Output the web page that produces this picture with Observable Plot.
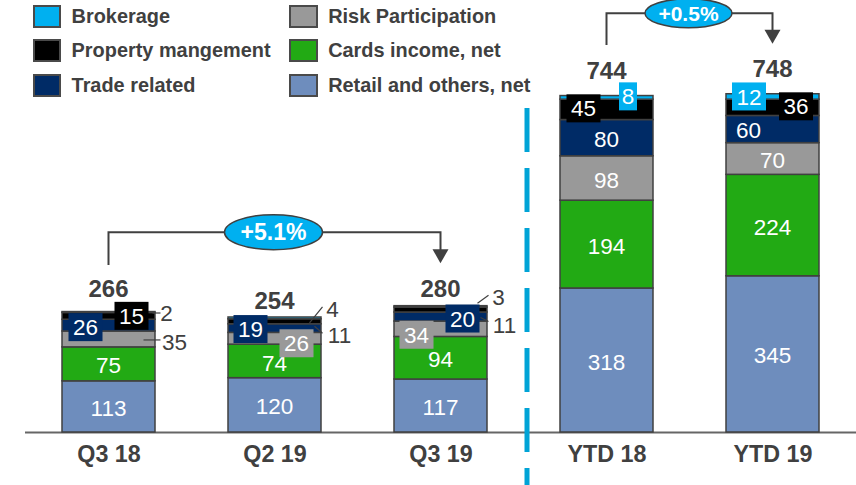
<!DOCTYPE html>
<html><head><meta charset="utf-8">
<script src="https://cdn.jsdelivr.net/npm/d3@7"></script>
<script src="https://cdn.jsdelivr.net/npm/@observablehq/plot@0.6"></script>
<style>
body{margin:0;background:#fff;font-family:"Liberation Sans",Arial,sans-serif;}
#wrap{position:relative;width:856px;height:485px;overflow:hidden;background:#fff}
.li{position:absolute;display:flex;align-items:center;font-weight:bold;font-size:19.9px;color:#404040;white-space:nowrap;height:23px}
.sw{width:28.6px;height:23px;border:2px solid #4a4a4a;box-sizing:border-box;margin-right:10.3px;flex:none}
</style></head>
<body><div id="wrap"></div>
<script>
// ---- data ----
const categories = ["Q3 18", "Q2 19", "Q3 19", "YTD 18", "YTD 19"];
const retail    = [113, 120, 117, 318, 345];
const cards     = [75, 74, 94, 194, 224];
const risk      = [35, 26, 34, 98, 70];
const trade     = [26, 19, 20, 80, 60];
const property  = [15, 11, 11, 45, 36];
const brokerage = [2, 4, 3, 8, 12];
const totals    = [266, 254, 280, 744, 748];
const seriesNames = ["Retail and others, net", "Cards income, net", "Risk Participation", "Trade related", "Property mangement", "Brokerage"];
const seriesColors = ["#6E8DBD", "#22AA14", "#999999", "#002B66", "#000000", "#00B0F0"];
const legendOrder = ["Brokerage", "Property mangement", "Trade related", "Risk Participation", "Cards income, net", "Retail and others, net"];
const annotations = [
  {from: "Q3 18", to: "Q3 19", text: "+5.1%"},
  {from: "YTD 18", to: "YTD 19", text: "+0.5%"}
];

// ---- label layout (pixel offsets relative to the scaled segment centre) ----
const labelLayout = {
  "Q3 18|Risk Participation": {dx: 66, dy: 3, leader: [35, 1, 52, 1]},
  "Q3 18|Trade related": {dx: -23, dy: 2, box: true},
  "Q3 18|Property mangement": {dx: 23, dy: 0, box: true},
  "Q3 18|Brokerage": {dx: 58, dy: 1, leader: [44, 1, 52, 1]},
  "Q2 19|Trade related": {dx: -24, dy: 1, box: true},
  "Q2 19|Risk Participation": {dx: 22, dy: 5, box: true},
  "Q2 19|Brokerage": {dx: 58, dy: -9, leader: [35, 5, 48, -11]},
  "Q2 19|Property mangement": {dx: 65, dy: 14, leader: [40, 5, 48, 12]},
  "Q3 19|Risk Participation": {dx: -24, dy: 6, box: true},
  "Q3 19|Trade related": {dx: 22, dy: 2, box: true},
  "Q3 19|Brokerage": {dx: 58, dy: -9, leader: [37, -3, 48, -11]},
  "Q3 19|Property mangement": {dx: 64, dy: 15.5, leader: [40, 8, 48, 12]},
  "YTD 18|Property mangement": {dx: -23, dy: -1, box: true},
  "YTD 18|Brokerage": {dx: 21.5, dy: -1, box: true},
  "YTD 19|Brokerage": {dx: -23.5, dy: 0, box: true},
  "YTD 19|Property mangement": {dx: 23.5, dy: -1, box: true},
  "YTD 19|Trade related": {dx: -24, dy: 1}
};
const totalsDy = {"Q3 18": -23, "Q2 19": -16.5, "Q3 19": -17, "YTD 18": -25, "YTD 19": -25};
const bracketLayout = [
  {rise: 73, gapFrom: 46.5, gapTo: 42, rx: 49, ry: 17.5, fs: 23},
  {rise: 80, gapFrom: 50, gapTo: 49.5, rx: 43.5, ry: 14.5, fs: 21}
];

// ---- derived tables ----
const seriesValues = [retail, cards, risk, trade, property, brokerage];
const colorOf = s => seriesColors[seriesNames.indexOf(s)];
const rows = [];
categories.forEach((c, i) => {
  let acc = 0;
  seriesNames.forEach((s, k) => {
    const v = seriesValues[k][i];
    rows.push({cat: c, series: s, value: v, mid: acc + v / 2});
    acc += v;
  });
});
const totalsData = categories.map((c, i) => ({cat: c, total: totals[i]}));
const totalOf = c => totals[categories.indexOf(c)];
const band = s => (typeof s.bandwidth === "function" ? s.bandwidth() : 0);
const FONT = '"Liberation Sans", Arial, sans-serif';

function segLabels(index, scales) {
  const g = d3.create("svg:g").attr("font-family", FONT);
  const bw = band(scales.x);
  for (const i of index) {
    const d = rows[i];
    const L = labelLayout[d.cat + "|" + d.series] || {};
    const bx = scales.x(d.cat) + bw / 2, by = scales.y(d.mid);
    const cx = bx + (L.dx ?? 0), cy = by + (L.dy ?? 1.5);
    if (L.leader) {
      g.append("line").attr("x1", bx + L.leader[0]).attr("y1", by + L.leader[1])
        .attr("x2", bx + L.leader[2]).attr("y2", by + L.leader[3])
        .attr("stroke", "#404040").attr("stroke-width", 1.2);
    }
    if (L.box) {
      const w = 16 * String(d.value).length + 2, h = 28;
      g.append("rect").attr("x", cx - w / 2).attr("y", cy - h / 2).attr("width", w).attr("height", h)
        .attr("fill", colorOf(d.series));
    }
    g.append("text").attr("x", cx).attr("y", cy).attr("dy", "0.36em").attr("text-anchor", "middle")
      .attr("font-size", 22.5).attr("fill", L.leader ? "#404040" : "#ffffff").text(d.value);
  }
  return g.node();
}

function totalLabels(index, scales) {
  const g = d3.create("svg:g").attr("font-family", FONT);
  const bw = band(scales.x);
  for (const i of index) {
    const d = totalsData[i];
    g.append("text").attr("x", scales.x(d.cat) + bw / 2).attr("y", scales.y(d.total) + totalsDy[d.cat])
      .attr("dy", "0.36em").attr("text-anchor", "middle").attr("font-size", 24).attr("font-weight", "bold")
      .attr("fill", "#404040").text(d.total);
  }
  return g.node();
}

function brackets(index, scales) {
  const g = d3.create("svg:g").attr("font-family", FONT);
  const bw = band(scales.x);
  for (const i of index) {
    const a = annotations[i], L = bracketLayout[i];
    const x1 = scales.x(a.from) + bw / 2, x2 = scales.x(a.to) + bw / 2;
    const t1 = scales.y(totalOf(a.from)), t2 = scales.y(totalOf(a.to));
    const top = Math.min(t1, t2) - L.rise;
    const e1 = t1 - L.gapFrom, tip = t2 - L.gapTo;
    g.append("path").attr("d", `M${x1},${e1}V${top}H${x2}V${tip - 13}`)
      .attr("fill", "none").attr("stroke", "#404040").attr("stroke-width", 2);
    g.append("path").attr("d", `M${x2 - 8},${tip - 14}L${x2 + 8},${tip - 14}L${x2},${tip}Z`).attr("fill", "#404040");
    const mx = (x1 + x2) / 2 - 1;
    g.append("ellipse").attr("cx", mx).attr("cy", top).attr("rx", L.rx).attr("ry", L.ry)
      .attr("fill", "#00B0F0").attr("stroke", "#404040").attr("stroke-width", 1.5);
    g.append("text").attr("x", mx).attr("y", top).attr("dy", "0.36em").attr("text-anchor", "middle")
      .attr("font-size", L.fs).attr("font-weight", "bold").attr("fill", "#ffffff").text(a.text);
  }
  return g.node();
}

const chart = Plot.plot({
  width: 856, height: 485,
  marginLeft: 25, marginRight: 0, marginTop: 108, marginBottom: 53,
  style: {fontFamily: FONT, background: "#ffffff"},
  x: {domain: categories, paddingInner: 0.44, paddingOuter: 0.22, axis: null},
  y: {domain: [0, 715.5], axis: null},
  color: {domain: seriesNames, range: seriesColors},
  marks: [
    Plot.ruleY([0], {stroke: "#666666", strokeWidth: 2}),
    Plot.barY(rows, {x: "cat", y: "value", fill: "series", stroke: "#404040", strokeWidth: 1.5}),
    Plot.text(rows, {x: "cat", y: "mid", text: "value", render: segLabels}),
    Plot.text(totalsData, {x: "cat", y: "total", text: "total", render: totalLabels}),
    Plot.text(annotations, {x: "from", text: "text", render: brackets}),
    Plot.ruleX(["YTD 18"], {x: d => d, dx: -80, stroke: "#00A3D6", strokeWidth: 5, strokeDasharray: "44,16", insetBottom: -53}),
    Plot.text(categories, {x: d => d, frameAnchor: "bottom", dy: 29, text: d => d, fontSize: 23.3, fontWeight: "bold", fill: "#404040"})
  ]
});
const wrap = document.getElementById("wrap");
wrap.appendChild(chart);

// legend
const legendPos = [[32.7, 4.5], [32.7, 38.5], [32.7, 73.5], [289.3, 4.5], [289.3, 38.5], [289.3, 73.5]];
legendOrder.forEach((s, i) => {
  const item = document.createElement("div");
  item.className = "li";
  item.style.left = legendPos[i][0] + "px";
  item.style.top = legendPos[i][1] + "px";
  const sw = document.createElement("span");
  sw.className = "sw";
  sw.style.background = colorOf(s);
  const t = document.createElement("span");
  t.textContent = s;
  item.appendChild(sw); item.appendChild(t);
  wrap.appendChild(item);
});
</script></body></html>
